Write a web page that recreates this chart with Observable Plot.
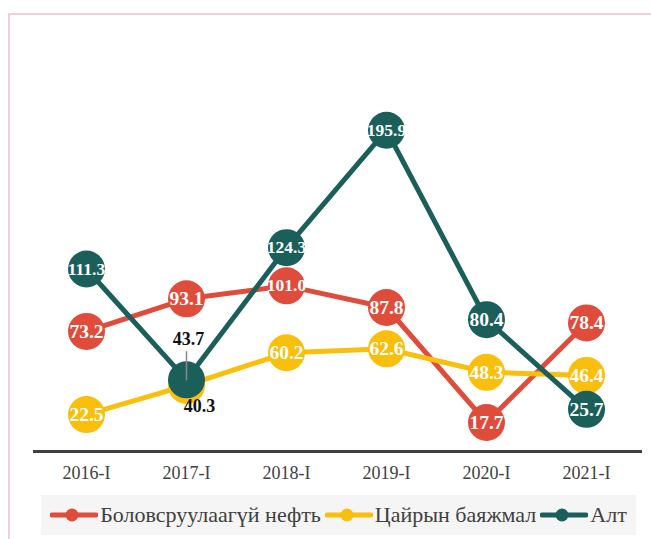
<!DOCTYPE html>
<html>
<head>
<meta charset="utf-8">
<script src="https://cdn.jsdelivr.net/npm/d3@7"></script>
<script src="https://cdn.jsdelivr.net/npm/@observablehq/plot@0.6"></script>
<style>
  html, body { margin: 0; padding: 0; background: #fff; }
  body { width: 651px; height: 539px; position: relative; overflow: hidden; font-family: "Liberation Serif", "Times New Roman", serif; }
  #frame { position: absolute; left: 8px; top: 13px; right: -4px; bottom: -4px; border-left: 2px solid #F4CDD5; border-top: 2px solid #F4CDD5; }
  #chart { position: absolute; left: 0; top: 0; }
  #legend { position: absolute; left: 41px; top: 495px; width: 595px; height: 40px; background: #F5F5F5; display: flex; align-items: center; justify-content: center; gap: 4px; font-size: 22px; color: #404040; }
  .item { display: flex; align-items: center; gap: 2px; white-space: nowrap; }
</style>
</head>
<body>
<div id="frame"></div>
<div id="chart"></div>
<div id="legend"></div>
<script>
const categories = ["2016-I", "2017-I", "2018-I", "2019-I", "2020-I", "2021-I"];
const oil  = [73.2, 93.1, 101.0, 87.8, 17.7, 78.4];
const zinc = [22.5, 40.3, 60.2, 62.6, 48.3, 46.4];
const gold = [111.3, 43.7, 124.3, 195.9, 80.4, 25.7];
const seriesNames = ["Боловсруулаагүй нефть", "Цайрын баяжмал", "Алт"];
const seriesColors = ["#E04C3B", "#FABE0C", "#1B5F5B"];
const seriesValues = [oil, zinc, gold];
// labels drawn outside the markers (black) for these category/series
const outsideLabels = [
  {cat: "2017-I", series: "Алт", dx: 2, dy: -41},
  {cat: "2017-I", series: "Цайрын баяжмал", dx: 13, dy: 21}
];

const rows = [];
seriesNames.forEach((s, i) => {
  seriesValues[i].forEach((v, j) => rows.push({cat: categories[j], series: s, value: v}));
});
const isOutside = d => outsideLabels.some(o => o.cat === d.cat && o.series === d.series);
const inside = rows.filter(d => !isOutside(d));
const fmt = d => d.value.toFixed(1);

const marks = [
  Plot.axisX({tickSize: 0, tickPadding: 15, fontSize: 18, color: "#404040", label: null}),
  Plot.ruleY([0], {stroke: "#404040", strokeWidth: 3})
];
seriesNames.forEach((s, i) => {
  const data = rows.filter(d => d.series === s);
  marks.push(Plot.line(data, {x: "cat", y: "value", stroke: seriesColors[i], strokeWidth: 5}));
  marks.push(Plot.dot(data, {x: "cat", y: "value", r: 18.5, fill: seriesColors[i], stroke: null}));
});
marks.push(Plot.text(inside.filter(d => fmt(d).length <= 4), {x: "cat", y: "value", text: fmt, fill: "white", fontWeight: "bold", fontSize: 19.5}));
marks.push(Plot.text(inside.filter(d => fmt(d).length > 4), {x: "cat", y: "value", text: fmt, fill: "white", fontWeight: "bold", fontSize: 17.5}));
outsideLabels.forEach(o => {
  const d = rows.find(r => r.cat === o.cat && r.series === o.series);
  if (o.dy < 0) {
    marks.push(Plot.vector([d], {x: "cat", y: "value", length: 28, rotate: 0, anchor: "start", stroke: "#8a8a8a", strokeWidth: 1.5,
      shape: {draw(ctx, l) { ctx.moveTo(0, 0); ctx.lineTo(0, -l); }}}));
  }
  marks.push(Plot.text([d], {x: "cat", y: "value", text: fmt, fill: "#111", fontWeight: "bold", fontSize: 18, dx: o.dx, dy: o.dy}));
});

const chart = Plot.plot({
  width: 651,
  height: 480,
  marginLeft: 33,
  marginRight: 9,
  marginTop: 0,
  marginBottom: 29,
  x: {type: "point", domain: categories, range: [84, 588], padding: 0},
  y: {domain: [0, 200], range: [451, 123], axis: null},
  style: {fontFamily: "Liberation Serif, Times New Roman, serif", background: "transparent", overflow: "visible"},
  marks
});
document.getElementById("chart").appendChild(chart);

const legend = document.getElementById("legend");
seriesNames.forEach((s, i) => {
  const item = document.createElement("div");
  item.className = "item";
  item.innerHTML = `<svg width="48" height="14"><line x1="2" y1="7" x2="46" y2="7" stroke="${seriesColors[i]}" stroke-width="5" stroke-linecap="round"/><circle cx="22" cy="7" r="6.5" fill="${seriesColors[i]}"/></svg><span>${s}</span>`;
  legend.appendChild(item);
});
</script>
</body>
</html>
